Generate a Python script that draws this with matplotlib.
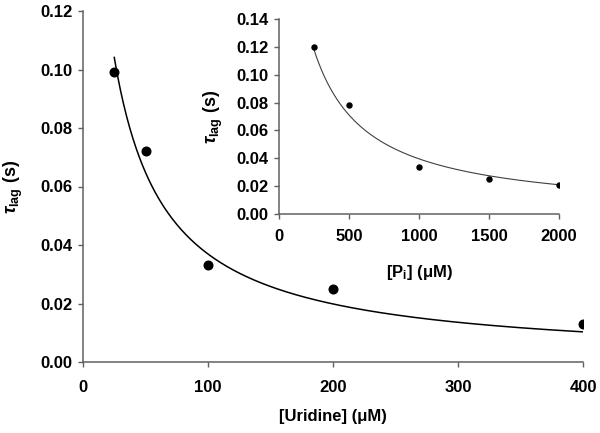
import numpy as np
import matplotlib
matplotlib.use('Agg')
import matplotlib.pyplot as plt

plt.rcParams['font.family'] = ['Liberation Sans', 'DejaVu Sans']
plt.rcParams['font.weight'] = 'bold'
plt.rcParams['mathtext.fontset'] = 'custom'
plt.rcParams['mathtext.rm'] = 'Liberation Sans:bold'
plt.rcParams['mathtext.it'] = 'Liberation Sans:italic:bold'
plt.rcParams['mathtext.bf'] = 'Liberation Sans:bold'

# main panel: uridine
uridine = [25, 50, 100, 200, 400]
tau_uridine = [0.099, 0.072, 0.033, 0.025, 0.013]
# fitted hyperbola y = a/(x+b)
fit_uridine = (4.29, 16.2)

# inset: phosphate
pi_conc = [250, 500, 1000, 1500, 2000]
tau_pi = [0.120, 0.078, 0.0335, 0.025, 0.021]
fit_pi = (44.7, 128.8)

spine_col = '#606060'

def style(ax):
    ax.spines['top'].set_visible(False)
    ax.spines['right'].set_visible(False)
    for s in ['left', 'bottom']:
        ax.spines[s].set_color(spine_col)
        ax.spines[s].set_linewidth(1.1)
    ax.tick_params(direction='out', length=3.6, width=1.0, color=spine_col,
                   labelsize=12)
    for lab in ax.get_xticklabels() + ax.get_yticklabels():
        lab.set_fontweight('bold')

fig = plt.figure(figsize=(6, 4.33), dpi=100)

ax = fig.add_axes([83/600, 71/433, 500/600, 351/433])
xg = np.linspace(uridine[0], uridine[-1], 300)
ax.plot(xg, fit_uridine[0]/(xg + fit_uridine[1]), color='black', lw=1.1)
ax.plot(uridine, tau_uridine, 'o', color='black', ms=6.2)
ax.set_xlim(0, 400)
ax.set_ylim(0, 0.12)
ax.set_xticks([0, 100, 200, 300, 400])
ax.set_yticks(np.arange(0, 0.121, 0.02))
ax.yaxis.set_major_formatter(matplotlib.ticker.FormatStrFormatter('%.2f'))
ax.tick_params(axis='x', pad=9)
ax.tick_params(axis='y', pad=4)
style(ax)
ax.set_xlabel('[Uridine] (μM)', fontsize=12, fontweight='bold')
ax.set_ylabel(r'$\it{τ}_{\rm{lag}}$ (s)', fontsize=13, fontweight='bold')
ax.xaxis.set_label_coords(0.5, -0.135)
ax.yaxis.set_label_coords(-0.116, 0.5)

ins = fig.add_axes([279/600, 219/433, 280/600, 195/433])
xg2 = np.linspace(pi_conc[0], pi_conc[-1], 300)
ins.plot(xg2, fit_pi[0]/(xg2 + fit_pi[1]), color='#404040', lw=0.8)
ins.plot(pi_conc, tau_pi, 'o', color='black', ms=3.6)
ins.set_xlim(0, 2000)
ins.set_ylim(0, 0.14)
ins.set_xticks([0, 500, 1000, 1500, 2000])
ins.set_yticks(np.arange(0, 0.141, 0.02))
ins.yaxis.set_major_formatter(matplotlib.ticker.FormatStrFormatter('%.2f'))
ins.tick_params(axis='x', pad=7)
ins.tick_params(axis='y', pad=4)
style(ins)
ins.set_xlabel(r'[P$_{\rm{i}}$] (μM)', fontsize=12, fontweight='bold')
ins.set_ylabel(r'$\it{τ}_{\rm{lag}}$ (s)', fontsize=13, fontweight='bold')
ins.xaxis.set_label_coords(0.5, -0.25)
ins.yaxis.set_label_coords(-0.193, 0.5)

fig.savefig('out.png', dpi=100)
